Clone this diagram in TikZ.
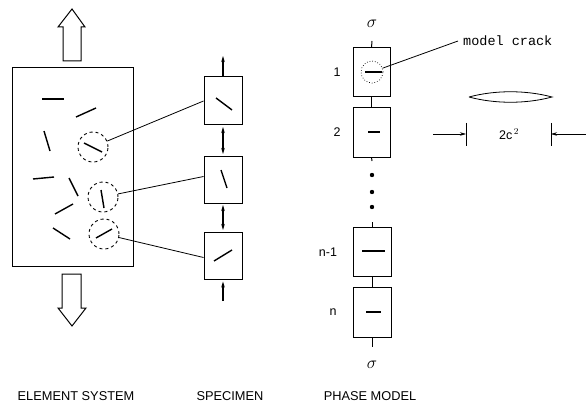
\documentclass[tikz,border=0pt]{standalone}
\usepackage{fontspec}
\setsansfont{Liberation Sans}
\setmonofont{Liberation Mono}
\usetikzlibrary{arrows.meta}
\begin{document}
\begin{tikzpicture}[x=1pt,y=-1pt,
  box/.style={draw,line width=1pt,rectangle,inner sep=0pt},
  crack/.style={line width=1.4pt},
  zone/.style={draw,circle,dashed,line width=0.9pt,minimum size=30pt,inner sep=0pt},
  lead/.style={line width=0.8pt},
  lbl/.style={font=\sffamily\fontsize{12.8}{15}\selectfont,inner sep=0pt},
  num/.style={font=\sffamily\fontsize{12.5}{15}\selectfont,inner sep=0pt},
  sig/.style={font=\fontsize{16}{18}\selectfont,inner sep=0pt},
  tip/.style={-{Stealth[length=6pt,width=3.5pt]},line width=1.2pt},
  dimtip/.style={-{Stealth[length=6pt,width=3.5pt]},line width=0.6pt},
  blockarrow/.style={draw,line width=1pt,line join=miter}]
\useasboundingbox (0,0) rectangle (586,409);

% ---------- Element system ----------
\node[box,minimum width=121pt,minimum height=198pt] (el) at (72.5,167) {};
\draw[blockarrow] (63,61) -- (63,27) -- (58,27) -- (72,9) -- (85,27) -- (81,27) -- (81,61) -- cycle;
\draw[blockarrow] (62,274) -- (62,308) -- (58,308) -- (72,326) -- (86,308) -- (81,308) -- (81,274) -- cycle;
\draw[crack] (42,99) -- (64,99);
\draw[crack] (76,117) -- (96,108);
\draw[crack] (44,131) -- (50,151);
\draw[crack] (33,179) -- (54,177);
\draw[crack] (69,178) -- (78,196);
\draw[crack] (55,214) -- (73,204);
\draw[crack] (53,228) -- (70,239);
\node[zone] (c1) at (93,147) {};
\node[zone] (c2) at (103,197) {};
\node[zone] (c3) at (104,234) {};
\draw[crack] (84,143) -- (102,152);
\draw[crack] (101,190) -- (104,208);
\draw[crack] (96,238) -- (112,229);

% ---------- Specimen ----------
\node[box,minimum width=38pt,minimum height=48pt] (s1) at (223,101) {};
\node[box,minimum width=38pt,minimum height=47pt] (s2) at (223,179.5) {};
\node[box,minimum width=38pt,minimum height=47pt] (s3) at (223,255.5) {};
\draw[crack] (216,98) -- (232,110);
\draw[crack] (221,170) -- (227,188);
\draw[crack] (214,261) -- (232,250);
\coordinate (stop) at (223,56);
\coordinate (sbot) at (223,301);
\draw[tip] (s1.north) -- (stop);
\draw[{Stealth[length=6pt,width=3.5pt]}-{Stealth[length=6pt,width=3.5pt]},line width=1.2pt] ([yshift=-1.5pt]s1.south) -- ([yshift=1.5pt]s2.north);
\draw[{Stealth[length=6pt,width=3.5pt]}-{Stealth[length=6pt,width=3.5pt]},line width=1.2pt] ([yshift=-1.5pt]s2.south) -- ([yshift=1.5pt]s3.north);
\draw[tip] (sbot) -- ([yshift=-2pt]s3.south);
\draw[lead] (c1) -- (s1.west);
\draw[lead] (c2) -- ([yshift=3pt]s2.west);
\draw[lead] (c3) -- ([yshift=-2pt]s3.west);

% ---------- Phase model ----------
\node[box,minimum width=37pt,minimum height=49pt] (p1) at (371.5,72.5) {};
\node[box,minimum width=37pt,minimum height=49pt] (p2) at (371.5,132.5) {};
\node[box,minimum width=38pt,minimum height=49pt] (p3) at (372,251.5) {};
\node[box,minimum width=38pt,minimum height=50pt] (p4) at (372,312) {};
\node[sig] (sigt) at (372,24) {$\sigma$};
\node[sig] (sigb) at (372,365) {$\sigma$};
\coordinate (pt1) at (372,41);
\coordinate (pt2) at (372,161);
\coordinate (pt3) at (372,222);
\coordinate (pt4) at (372,347);
\draw[line width=1pt] (pt1) -- (p1.north);
\draw[line width=1pt] (p1.south) -- (p2.north);
\draw[line width=1pt] (p2.south) -- (pt2);
\draw[line width=1pt] (pt3) -- (p3.north);
\draw[line width=1pt] (p3.south) -- (p4.north);
\draw[line width=1pt] (p4.south) -- (pt4);
\fill (372,175) circle (2.2pt);
\fill (372,192) circle (2.2pt);
\fill (372,207) circle (2.2pt);
\node[draw,circle,dotted,line width=0.7pt,minimum size=22pt,inner sep=0pt] (mc) at (372,72) {};
\draw[crack] (365,72) -- (382,72);
\draw[crack] (368,132) -- (380,132);
\draw[line width=1.1pt] (362,251) -- (385,251);
\draw[crack] (366,312) -- (381,312);
\node[num] (n1) at (337,72) {1};
\node[num] (n2) at (337,132) {2};
\node[num] (n3) at (328,252) {n-1};
\node[num] (n4) at (333,312) {n};
\node[font=\ttfamily\fontsize{13.5}{15}\selectfont,inner sep=0pt,anchor=west] (mct) at (463,41) {model crack};
\draw[lead] (mc) -- ([xshift=-5pt]mct.west);

% lens and dimension
\draw[line width=0.8pt] (469,97) .. controls (495,90) and (526,90) .. (552,97) .. controls (526,104) and (495,104) .. (469,97);
\coordinate (tl1) at (466,123);
\coordinate (tl2) at (466,146);
\coordinate (tr1) at (551,123);
\coordinate (tr2) at (551,146);
\draw[line width=0.8pt] (tl1) -- (tl2);
\draw[line width=0.8pt] (tr1) -- (tr2);
\coordinate (al) at (433,134);
\coordinate (ar) at (586,134);
\draw[dimtip] (al) -- (466,134);
\draw[dimtip] (ar) -- (551,134);
\node[num] (dim) at (509,134) {2c$^{\,2}$};

% ---------- Labels ----------
\node[lbl] (l1) at (76,396) {ELEMENT SYSTEM};
\node[lbl] (l2) at (230,396) {SPECIMEN};
\node[lbl] (l3) at (370,396) {PHASE MODEL};
\end{tikzpicture}
\end{document}
